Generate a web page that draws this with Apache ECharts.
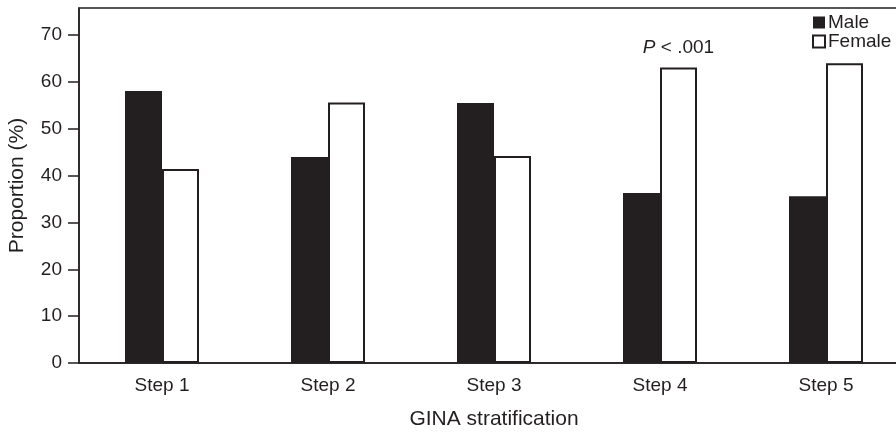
<!DOCTYPE html>
<html>
<head>
<meta charset="utf-8">
<script src="https://cdn.jsdelivr.net/npm/echarts@6/dist/echarts.min.js"></script>
<style>
  html, body { margin: 0; padding: 0; background: #fff; }
  #chart { width: 896px; height: 436px; }
</style>
</head>
<body>
<div id="chart"></div>
<script>
var categories = ['Step 1', 'Step 2', 'Step 3', 'Step 4', 'Step 5'];
var maleValues = [58.1, 44.0, 55.5, 36.3, 35.6];
var femaleValues = [41.4, 55.6, 44.2, 63.1, 64.0];
var yTicks = [0, 10, 20, 30, 40, 50, 60, 70];

var ink = '#231f20';
var font = 'Liberation Sans, Arial, sans-serif';

var chart = echarts.init(document.getElementById('chart'));

// p-value note sits on the Step 4 female bar
var femaleData = femaleValues.map(function (v, i) {
  if (i !== 3) return v;
  return {
    value: v,
    label: {
      show: true,
      position: 'top',
      distance: 10,
      formatter: '{i|P} < .001',
      color: ink,
      fontFamily: font,
      fontSize: 19,
      rich: { i: { fontStyle: 'italic', fontSize: 19, fontFamily: font, color: ink } }
    }
  };
});

chart.setOption({
  animation: false,
  textStyle: { fontFamily: font, color: ink },
  grid: {
    left: 79,
    width: 830,
    top: 8,
    bottom: 73,
    outerBoundsMode: 'none',
    containLabel: false,
    show: true,
    borderColor: ink,
    borderWidth: 1.5
  },
  legend: {
    orient: 'vertical',
    left: 812,
    top: 13,
    padding: 0,
    itemWidth: 12,
    itemHeight: 12,
    itemGap: 0,
    icon: 'rect',
    textStyle: { fontSize: 19, color: ink, fontFamily: font, padding: [0, 0, 0, -2] },
    data: ['Male', 'Female']
  },
  xAxis: {
    type: 'category',
    data: categories,
    name: 'GINA stratification',
    nameLocation: 'middle',
    nameGap: 46,
    nameTextStyle: { fontSize: 21, color: ink, fontFamily: font },
    axisLine: { lineStyle: { color: ink, width: 1.5 } },
    axisTick: { alignWithLabel: true, length: 10, lineStyle: { color: ink, width: 1.5 } },
    axisLabel: { fontSize: 19, color: ink, margin: 13, fontFamily: font }
  },
  yAxis: {
    type: 'value',
    min: 0,
    max: 75.8,
    name: 'Proportion (%)',
    nameLocation: 'middle',
    nameGap: 51,
    nameTextStyle: { fontSize: 21, color: ink, fontFamily: font },
    splitLine: { show: false },
    axisLine: { show: true, lineStyle: { color: ink, width: 1.5 } },
    axisTick: { show: true, length: 11, customValues: yTicks, lineStyle: { color: ink, width: 1.5 } },
    axisLabel: { fontSize: 19, color: ink, margin: 17, customValues: yTicks, fontFamily: font }
  },
  series: [
    {
      name: 'Male',
      type: 'bar',
      barWidth: 37,
      barGap: '0%',
      itemStyle: { color: ink },
      data: maleValues
    },
    {
      name: 'Female',
      type: 'bar',
      barWidth: 37,
      barGap: '0%',
      itemStyle: { color: '#fff', borderColor: ink, borderWidth: 2 },
      data: femaleData
    }
  ]
});
</script>
</body>
</html>
